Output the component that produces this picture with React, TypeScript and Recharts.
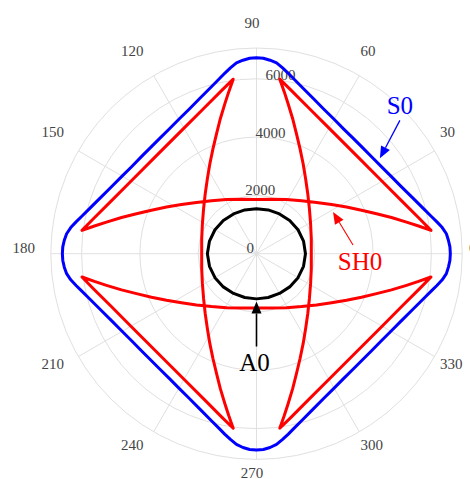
import React from "react";
import {
  RadarChart,
  Radar,
  PolarGrid,
  PolarAngleAxis,
  PolarRadiusAxis,
} from "recharts";

const W = 470;
const H = 479;
const CX = 256.5;
const CY = 253.7;
const OUTER = 205.7;
const R_MAX = 7057;

const FONT = "'Liberation Serif', 'Times New Roman', serif";
const TICK_COLOR = "#444";
const GRID_COLOR = "#e0e0e0";

// angular tick labels (degrees, counter-clockwise from east)
const ANGLE_TICKS = ["0", "30", "60", "90", "120", "150", "180", "210", "240", "270", "300", "330"];
const RADIUS_TICKS = [0, 2000, 4000, 6000, R_MAX];

// S0 (blue)
const S0_ANGLES = [
  0, 2, 4, 6, 8, 10, 12, 15, 20, 25, 30, 35, 40, 45, 50, 55, 60, 65, 70, 75, 78, 80, 82, 84, 86, 88,
  90, 92, 94, 96, 98, 100, 102, 105, 110, 115, 120, 125, 130, 135, 140, 145, 150, 155, 160, 165, 168, 170, 172, 174, 176, 178,
  180, 182, 184, 186, 188, 190, 192, 195, 200, 205, 210, 215, 220, 225, 230, 235, 240, 245, 250, 255, 258, 260, 262, 264, 266, 268,
  270, 272, 274, 276, 278, 280, 282, 285, 290, 295, 300, 305, 310, 315, 320, 325, 330, 335, 340, 345, 348, 350, 352, 354, 356, 358,
];
const S0_VALUES = [
  6650, 6640, 6600, 6550, 6435, 6285, 6135, 5940, 5675, 5470, 5325, 5220, 5165, 5145, 5165, 5220, 5325, 5470, 5675, 5940, 6135, 6285, 6435, 6580, 6655, 6710,
  6725, 6710, 6655, 6580, 6435, 6285, 6135, 5940, 5675, 5470, 5325, 5220, 5165, 5145, 5165, 5220, 5325, 5470, 5675, 5940, 6135, 6285, 6435, 6550, 6610, 6650,
  6660, 6650, 6610, 6550, 6435, 6285, 6135, 5940, 5675, 5470, 5325, 5220, 5165, 5145, 5165, 5220, 5325, 5470, 5675, 5940, 6135, 6285, 6435, 6580, 6665, 6720,
  6735, 6720, 6665, 6580, 6435, 6285, 6135, 5940, 5675, 5470, 5325, 5220, 5165, 5145, 5165, 5220, 5325, 5470, 5675, 5940, 6135, 6285, 6435, 6550, 6600, 6640,
];

// SH0 (red) - one closed path through the eight cusps:
// diagonal, right lens, diagonal, bottom lens, diagonal, left lens, diagonal, top lens
const SH0_ANGLES = [
  7.6, 12, 20, 30, 45, 60, 70, 78,
  82.4, 80.3, 78.1, 75, 71.6, 67.5, 62.6, 56.8, 49.5, 40.4, 29, 15.3, 0,
  344.7, 331, 319.6, 310.5, 303.2, 297.4, 292.5, 288.4, 285, 281.9, 279.7,
  277.6, 282, 290, 300, 315, 330, 340, 348,
  352.4, 350.3, 348.1, 345, 341.6, 337.5, 332.6, 326.8, 319.5, 310.4, 299, 285.3, 270,
  254.7, 241, 229.6, 220.5, 213.2, 207.4, 202.5, 198.4, 195, 191.9, 189.7,
  187.6, 192, 200, 210, 225, 240, 250, 258,
  262.4, 260.3, 258.1, 255, 251.6, 247.5, 242.6, 236.8, 229.5, 220.4, 209, 195.3, 180,
  164.7, 151, 139.6, 130.5, 123.2, 117.4, 112.5, 108.4, 105, 101.9, 99.7,
  97.6, 102, 110, 120, 135, 150, 160, 168,
  172.4, 170.3, 168.1, 165, 161.6, 157.5, 152.6, 146.8, 139.5, 130.4, 119, 105.3, 90,
  74.7, 61, 49.6, 40.5, 33.2, 27.4, 22.5, 18.4, 15, 11.9, 9.7,
];
const SH0_VALUES = [
  6040, 5730, 5300, 4975, 4805, 4975, 5300, 5730,
  6040, 5640, 5260, 4794, 4340, 3900, 3477, 3077, 2708, 2383, 2122, 1949, 1880,
  1949, 2122, 2383, 2708, 3077, 3477, 3900, 4340, 4794, 5260, 5640,
  6040, 5730, 5300, 4975, 4805, 4975, 5300, 5730,
  6040, 5640, 5260, 4794, 4340, 3900, 3477, 3077, 2708, 2383, 2122, 1935, 1860,
  1935, 2122, 2383, 2708, 3077, 3477, 3900, 4340, 4794, 5260, 5640,
  6040, 5730, 5300, 4975, 4805, 4975, 5300, 5730,
  6040, 5640, 5260, 4794, 4340, 3900, 3477, 3077, 2708, 2383, 2122, 1949, 1880,
  1949, 2122, 2383, 2708, 3077, 3477, 3900, 4340, 4794, 5260, 5640,
  6040, 5730, 5300, 4975, 4805, 4975, 5300, 5730,
  6040, 5640, 5260, 4794, 4340, 3900, 3477, 3077, 2708, 2383, 2122, 1935, 1860,
  1935, 2122, 2383, 2708, 3077, 3477, 3900, 4340, 4794, 5260, 5640,
];

// A0 (black)
const A0_ANGLES = [0, 15, 30, 45, 60, 75, 90, 105, 120, 135, 150, 165, 180, 195, 210, 225, 240, 255, 270, 285, 300, 315, 330, 345];
const A0_VALUES = [1680, 1670, 1645, 1610, 1575, 1555, 1545, 1555, 1575, 1610, 1645, 1670, 1685, 1670, 1645, 1610, 1575, 1555, 1550, 1555, 1575, 1610, 1645, 1670];

// arrow annotations: tip in (angle, value), tail/text as pixel offsets from tip
const ANNOTATIONS = [
  { label: "S0", color: "#0000ff", angle: 37.7, value: 5350, ax: 20, ay: -38, tx: 20, ty: -53, width: 1.3 },
  { label: "SH0", color: "#ff0000", angle: 28.6, value: 2990, ax: 20, ay: 33, tx: 27, ty: 50, width: 1.1 },
  { label: "A0", color: "#000000", angle: 270, value: 1640, ax: 0, ay: 45, tx: -2, ty: 61, width: 1.6 },
];

const toRows = (angles: number[], values: number[]) =>
  angles.map((angle, i) => ({ angle, v: values[i] }));

const rad = (d: number) => (d * Math.PI) / 180;

function AngleTick(props: any) {
  const deg = Number(props.payload.value);
  const c = Math.cos(rad(deg));
  const s = Math.sin(rad(deg));
  const label = String(deg);
  const w = label.length * 7.5;
  const side = Math.abs(c) < 0.01 ? 0 : Math.sign(c);
  const x = CX + 217 * c + (side * w) / 2 - 4.5;
  const y = CY - (225.3 * s + 5.7 + 10 * s * c * c);
  return (
    <text x={x} y={y} dy="0.33em" textAnchor="middle" fontFamily={FONT} fontSize={15} fill={TICK_COLOR}>
      {label}
    </text>
  );
}

function RadiusTick(props: any) {
  const v = props.payload.value;
  if (v > 6000) return <g />;
  return (
    <text x={props.x - 6.3} y={props.y - 6} dy="0.33em" textAnchor="middle" fontFamily={FONT} fontSize={15} fill={TICK_COLOR}>
      {v}
    </text>
  );
}

const CHART_PROPS = {
  width: W,
  height: H,
  cx: CX,
  cy: CY,
  innerRadius: 0,
  outerRadius: OUTER,
  startAngle: 0,
  endAngle: 360,
  margin: { top: 0, right: 0, bottom: 0, left: 0 },
};

const layer: React.CSSProperties = { position: "absolute", left: 0, top: 0 };

function CurveLayer({ angles, values, color }: { angles: number[]; values: number[]; color: string }) {
  return (
    <div style={layer}>
      <RadarChart {...CHART_PROPS} data={toRows(angles, values)}>
        <PolarAngleAxis type="number" dataKey="angle" domain={[0, 360]} allowDataOverflow tick={false} tickLine={false} axisLine={false} />
        <PolarRadiusAxis type="number" domain={[0, R_MAX]} allowDataOverflow tick={false} tickLine={false} axisLine={false} />
        <Radar
          dataKey="v"
          stroke={color}
          strokeWidth={3}
          strokeLinejoin="round"
          fill="none"
          fillOpacity={0}
          dot={false}
          isAnimationActive={false}
        />
      </RadarChart>
    </div>
  );
}

function Annotations() {
  const px = (angle: number, value: number) => {
    const r = (value / R_MAX) * OUTER;
    return { x: CX + r * Math.cos(rad(angle)), y: CY - r * Math.sin(rad(angle)) };
  };
  return (
    <svg width={W} height={H} style={{ ...layer, pointerEvents: "none" }}>
      {ANNOTATIONS.map((a) => {
        const tip = px(a.angle, a.value);
        const tail = { x: tip.x + a.ax, y: tip.y + a.ay };
        const len = Math.hypot(a.ax, a.ay);
        const ux = -a.ax / len;
        const uy = -a.ay / len;
        const head = 12;
        const half = 5;
        const bx = tip.x - ux * head;
        const by = tip.y - uy * head;
        const pts = [
          `${tip.x},${tip.y}`,
          `${bx - uy * half},${by + ux * half}`,
          `${bx + uy * half},${by - ux * half}`,
        ].join(" ");
        return (
          <g key={a.label}>
            <line x1={tail.x} y1={tail.y} x2={bx} y2={by} stroke={a.color} strokeWidth={a.width} />
            <polygon points={pts} fill={a.color} />
            <text
              x={tip.x + a.tx}
              y={tip.y + a.ty}
              dy="0.33em"
              textAnchor="middle"
              fontFamily={FONT}
              fontSize={25}
              fill={a.color}
            >
              {a.label}
            </text>
          </g>
        );
      })}
    </svg>
  );
}

export default function App() {
  return (
    <div style={{ position: "absolute", left: 0, top: 0, width: W, height: H, background: "#fff" }}>
      <div style={layer}>
        <RadarChart {...CHART_PROPS} data={ANGLE_TICKS.map((t) => ({ t }))}>
          <PolarGrid stroke={GRID_COLOR} gridType="circle" />
          <PolarAngleAxis dataKey="t" tick={AngleTick} tickLine={false} axisLine={false} />
          <PolarRadiusAxis
            type="number"
            angle={80}
            domain={[0, R_MAX]}
            ticks={RADIUS_TICKS}
            allowDataOverflow
            tick={RadiusTick}
            tickLine={false}
            axisLine={false}
          />
        </RadarChart>
      </div>
      <CurveLayer angles={SH0_ANGLES} values={SH0_VALUES} color="#ff0000" />
      <CurveLayer angles={A0_ANGLES} values={A0_VALUES} color="#000000" />
      <CurveLayer angles={S0_ANGLES} values={S0_VALUES} color="#0000ff" />
      <Annotations />
    </div>
  );
}
